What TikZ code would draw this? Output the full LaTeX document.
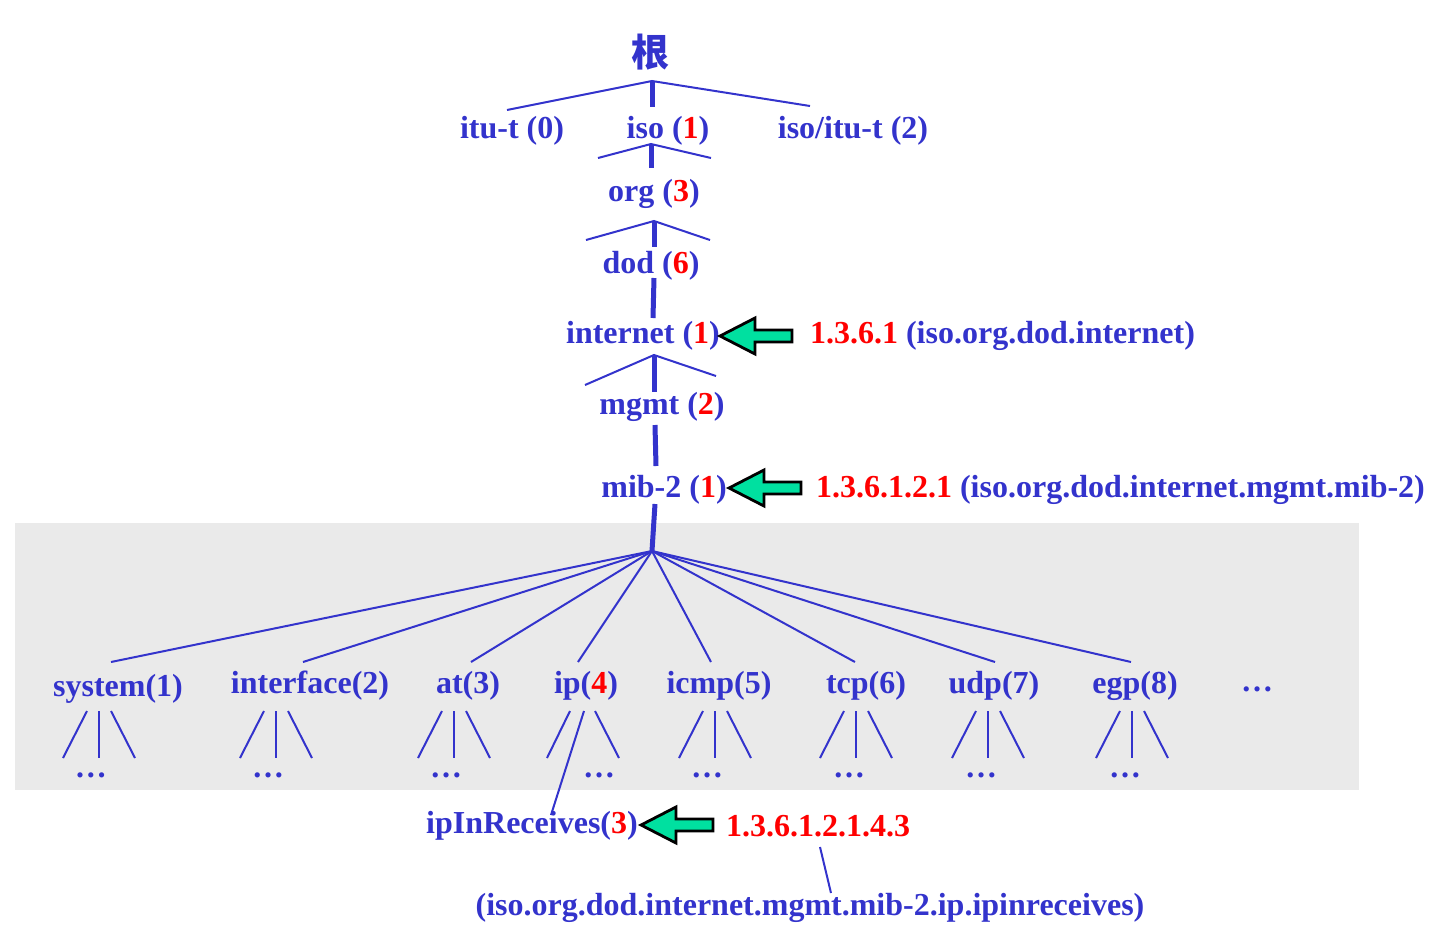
\documentclass[tikz,border=0pt]{standalone}
\usepackage{fontspec}
\setmainfont{Liberation Serif}
\newfontfamily\cjk{Noto Sans CJK SC}
\usetikzlibrary{positioning}

\definecolor{mibblue}{RGB}{51,51,204}
\definecolor{mibred}{RGB}{255,0,0}
\definecolor{arrowgreen}{RGB}{0,224,160}
\definecolor{panelgray}{RGB}{234,234,234}
\newcommand{\oid}[1]{\textcolor{mibred}{#1}}
\newcommand{\greenarrow}[1]{\filldraw[oidarrow] (#1) -- ++(35,-18) -- ++(0,12)
  -- ++(37,0) -- ++(0,12) -- ++(-37,0) -- ++(0,12) -- cycle;}

\begin{document}
\begin{tikzpicture}[x=0.5pt,y=-0.5pt,mibblue,
  font=\fontsize{16}{18}\selectfont\bfseries,
  every node/.append style={yshift=-1.5pt}]
  \tikzstyle{branch}=[draw=mibblue,line width=1pt]
  \tikzstyle{trunk}=[draw=mibblue,line width=2.5pt]
  \tikzstyle{oidarrow}=[fill=arrowgreen,draw=black,line width=1.4pt,line join=miter]

  \useasboundingbox (0,0) rectangle (1437,949);
  \fill[panelgray] (15,523) rectangle (1359,790);

  % upper part of the tree
  \node (root)      at (650,49)  {\cjk\fontsize{19}{20}\selectfont 根};
  \node (itu)       at (512,128) {itu-t (0)};
  \node (iso)       at (668,128) {iso (\oid{1})};
  \node (isoitu)    at (853,128) {iso/itu-t (2)};
  \node (org)       at (654,191) {org (\oid{3})};
  \node (dod)       at (651,263) {dod (\oid{6})};
  \node (internet)  at (643,333) {internet (\oid{1})};
  \node (mgmt)      at (662,404) {mgmt (\oid{2})};
  \node (mib2)      at (664,487) {mib-2 (\oid{1})};

  \node[anchor=west] (internetoid) at (803,333) {\oid{1.3.6.1} (iso.org.dod.internet)};
  \node[anchor=west] (mib2oid)     at (809,487) {\oid{1.3.6.1.2.1} (iso.org.dod.internet.mgmt.mib-2)};

  \coordinate (r0) at (652,78);
  \coordinate (j1) at (651,141);
  \coordinate (j2) at (654,218);
  \coordinate (j3) at (654,352);
  \coordinate (j4) at (652,548);

  \draw[branch] (507,110) -- (r0) -- (810,106);
  \draw[trunk]  (r0) -- (652,107);
  \draw[branch] (598,158) -- (j1) -- (711,158);
  \draw[trunk]  (j1) -- (651,168);
  \draw[branch] (586,240) -- (j2) -- (710,240);
  \draw[trunk]  (j2) -- (654,247);
  \draw[trunk]  (654,278) -- (653,318);
  \draw[branch] (585,385) -- (j3) -- (716,376);
  \draw[trunk]  (j3) -- (654,392);
  \draw[trunk]  (655,425) -- (656,466);
  \draw[trunk]  (655,504) -- (j4);

  \coordinate (tip1) at (720,333);
  \coordinate (tip2) at (729,485);
  \greenarrow{tip1}
  \greenarrow{tip2}

  % mib-2 groups
  \node (system)    at (118,686) {system(1)};
  \node (interface) at (310,683) {interface(2)};
  \node (addr)      at (468,683) {at(3)};
  \node (ip)        at (586,683) {ip(\oid{4})};
  \node (icmp)      at (719,683) {icmp(5)};
  \node (tcp)       at (866,683) {tcp(6)};
  \node (udp)       at (994,683) {udp(7)};
  \node (egp)       at (1135,683) {egp(8)};
  \node (more)      at (1257,686) {…};

  \draw[branch] (j4) -- (111,662);
  \draw[branch] (j4) -- (303,662);
  \draw[branch] (j4) -- (471,662);
  \draw[branch] (j4) -- (578,662);
  \draw[branch] (j4) -- (711,662);
  \draw[branch] (j4) -- (855,662);
  \draw[branch] (j4) -- (995,662);
  \draw[branch] (j4) -- (1131,662);

  \foreach \cx/\dx in {99/91,276/268,454/446,715/707,856/849,988/981,1132/1125} {
    \draw[branch] (\cx-12,711) -- (\cx-36,758);
    \draw[branch] (\cx,711) -- (\cx,758);
    \draw[branch] (\cx+12,711) -- (\cx+36,758);
    \node at (\dx,772) {…};
  }
  \draw[branch] (570,711) -- (547,758);
  \draw[branch] (595,711) -- (619,758);
  \node (ipmore) at (599,772) {…};

  % ipInReceives
  \node (ipin)    at (532,823) {ipInReceives(\oid{3})};
  \node[anchor=west] (ipinoid) at (719,823) {\oid{1.3.6.1.2.1.4.3}};
  \node (ipinname) at (810,905) {(iso.org.dod.internet.mgmt.mib-2.ip.ipinreceives)};
  \coordinate (ipleaf) at (551,812);
  \draw[branch] (584,711) -- (ipleaf);
  \coordinate (tip3) at (641,822);
  \greenarrow{tip3}
  \draw[branch] (820,847) -- (831,893);
\end{tikzpicture}
\end{document}
